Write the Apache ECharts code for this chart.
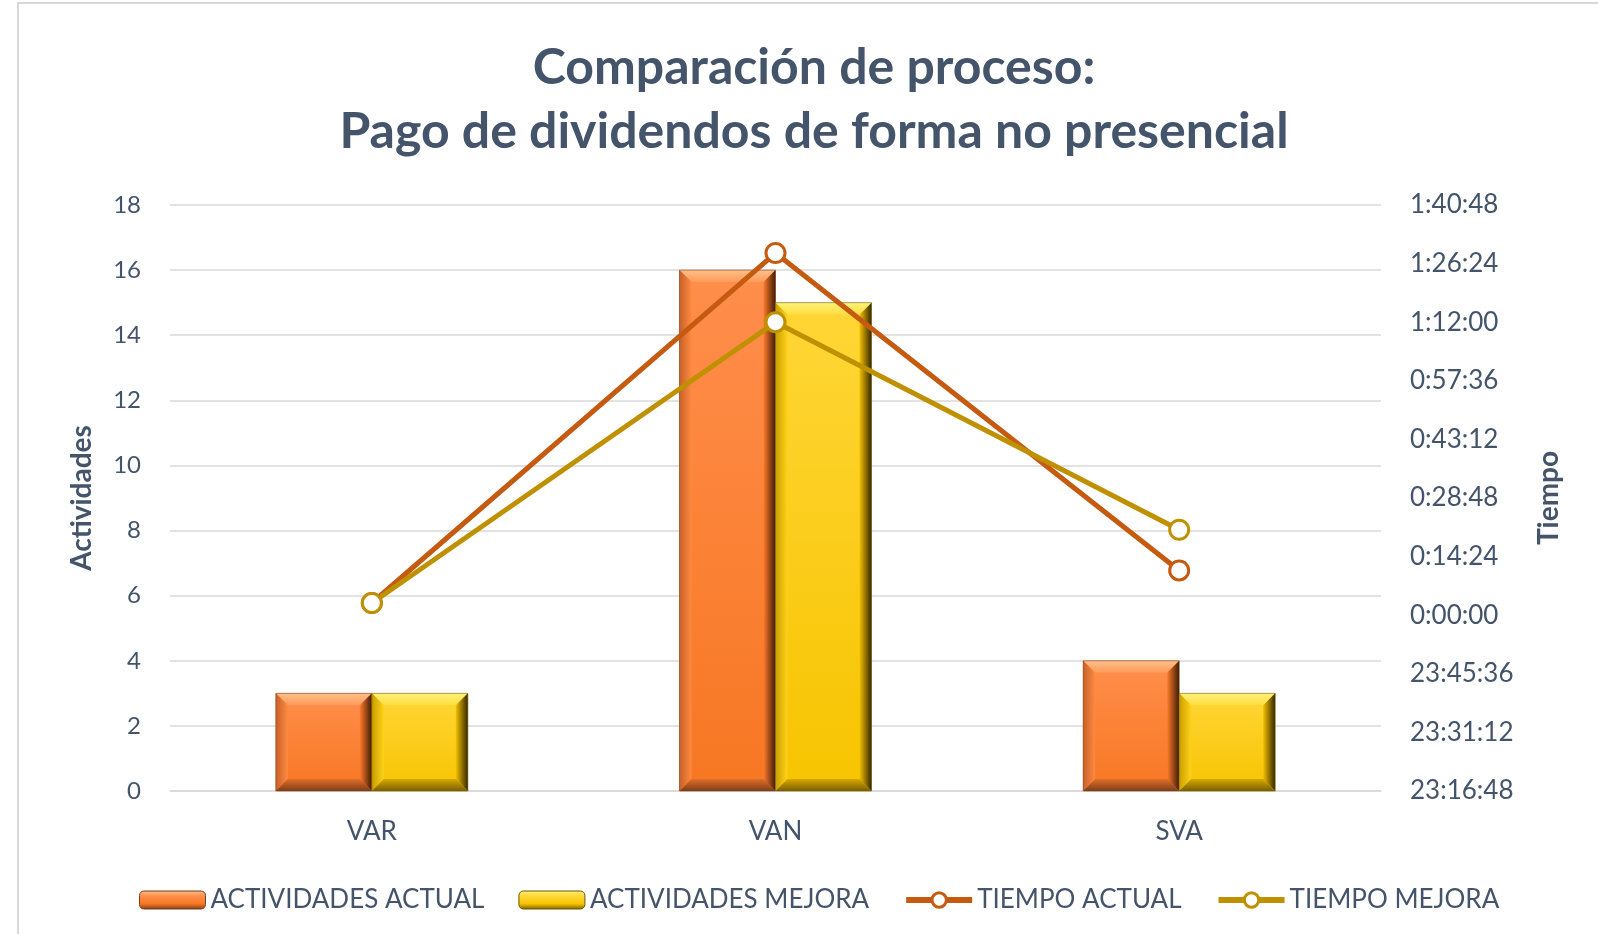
<!DOCTYPE html>
<html>
<head>
<meta charset="utf-8">
<script src="https://cdn.jsdelivr.net/npm/echarts@6/dist/echarts.min.js"></script>
<style>
  html, body { margin: 0; padding: 0; background: #fff; }
  #main { width: 1598px; height: 934px; }
</style>
</head>
<body>
<div id="main"></div>
<script>
// datos
var categorias = ['VAR', 'VAN', 'SVA'];
var actividadesActual = [3, 16, 4];
var actividadesMejora = [3, 15, 3];
// tiempos en minutos
var tiempoActualMin = [3, 89, 11];
var tiempoMejoraMin = [3, 72, 21];

function aDias(m) { return m / 1440; }

// formato h:mm:ss como en excel (valor en dias)
function formatoHora(v) {
    var s = Math.round(v * 86400);
    s = ((s % 86400) + 86400) % 86400;
    var h = Math.floor(s / 3600);
    var mi = Math.floor((s % 3600) / 60);
    var se = s % 60;
    return h + ':' + (mi < 10 ? '0' : '') + mi + ':' + (se < 10 ? '0' : '') + se;
}

var texto = '#44546A';
var fuente = 'Lato';
var anchoBarra = 96;
var bisel = 12;

var naranja = {
    caraArriba: '#FF8E4C', caraAbajo: '#F77722',
    arriba: ['#FFC08A', '#FF9A58'],
    izq: ['#C8602A', '#FF8A40'],
    der: ['#FF7A2A', '#3E1C06'],
    abajo: ['#E06E28', '#7E3E18'],
    borde: '#7A3C16'
};
var amarillo = {
    caraArriba: '#FFD636', caraAbajo: '#F7C400',
    arriba: ['#FFF27A', '#FFDC40'],
    izq: ['#C99E00', '#FFD21A'],
    der: ['#F4C000', '#332800'],
    abajo: ['#D8A800', '#7A6000'],
    borde: '#6A5400'
};

function grad(x2, y2, c) {
    return new echarts.graphic.LinearGradient(0, 0, x2, y2, [
        {offset: 0, color: c[0]}, {offset: 1, color: c[1]}
    ]);
}

// barra con bisel estilo excel
function barraBisel(pal, desplazamiento) {
    return function (params, api) {
        var cat = api.value(0);
        var base = api.coord([cat, 0]);
        var tope = api.coord([cat, api.value(1)]);
        var x0 = base[0] + desplazamiento;
        var x1 = x0 + anchoBarra;
        var y0 = tope[1];
        var y1 = base[1];
        var b = Math.min(bisel, (y1 - y0) / 2);
        return {
            type: 'group',
            children: [
                {type: 'rect', shape: {x: x0, y: y0, width: anchoBarra, height: y1 - y0},
                 style: {fill: grad(0, 1, [pal.caraArriba, pal.caraAbajo])}},
                {type: 'polygon', shape: {points: [[x0, y0], [x1, y0], [x1 - b, y0 + b], [x0 + b, y0 + b]]},
                 style: {fill: grad(0, 1, pal.arriba)}},
                {type: 'polygon', shape: {points: [[x0, y0], [x0 + b, y0 + b], [x0 + b, y1 - b], [x0, y1]]},
                 style: {fill: grad(1, 0, pal.izq)}},
                {type: 'polygon', shape: {points: [[x1, y0], [x1, y1], [x1 - b, y1 - b], [x1 - b, y0 + b]]},
                 style: {fill: new echarts.graphic.LinearGradient(x1 - b, 0, x1, 0, [
                     {offset: 0, color: pal.der[0]}, {offset: 1, color: pal.der[1]}], true)}},
                {type: 'polygon', shape: {points: [[x0, y1], [x0 + b, y1 - b], [x1 - b, y1 - b], [x1, y1]]},
                 style: {fill: grad(0, 1, pal.abajo)}},
                {type: 'rect', shape: {x: x0, y: y0, width: anchoBarra, height: y1 - y0},
                 style: {fill: 'none', stroke: pal.borde, lineWidth: 0.8, opacity: 0.7}}
            ]
        };
    };
}

function icono(pal) {
    return new echarts.graphic.LinearGradient(0, 0, 0, 1, [
        {offset: 0, color: pal.arriba[0]}, {offset: 0.3, color: pal.caraArriba},
        {offset: 0.7, color: pal.caraAbajo}, {offset: 1, color: pal.abajo[1]}
    ]);
}

var myChart = echarts.init(document.getElementById('main'));
var option = {
    backgroundColor: '#fff',
    title: {
        text: 'Comparación de proceso:\nPago de dividendos de forma no presencial',
        left: 814,
        textAlign: 'center',
        top: 36,
        padding: 0,
        textStyle: {
            fontFamily: fuente,
            fontSize: 50,
            fontWeight: 'bold',
            color: texto,
            lineHeight: 64
        }
    },
    graphic: [{
        type: 'rect',
        shape: {x: 18, y: 3, width: 1700, height: 1000},
        style: {fill: 'none', stroke: '#D9D9D9', lineWidth: 2},
        silent: true
    }],
    legend: {
        left: 134,
        top: 882,
        itemWidth: 66,
        itemHeight: 18,
        itemGap: 34,
        lineStyle: {width: 6},
        textStyle: {fontFamily: fuente, fontSize: 26, color: texto},
        data: [
            {name: 'ACTIVIDADES ACTUAL', itemStyle: {borderColor: naranja.borde, borderWidth: 1}},
            {name: 'ACTIVIDADES MEJORA', itemStyle: {borderColor: amarillo.borde, borderWidth: 1}},
            {name: 'TIEMPO ACTUAL', itemStyle: {borderWidth: 3}},
            {name: 'TIEMPO MEJORA', itemStyle: {borderWidth: 3}}
        ]
    },
    grid: {
        left: 170,
        right: 217,
        top: 205,
        bottom: 143
    },
    xAxis: {
        type: 'category',
        data: categorias,
        axisLine: {lineStyle: {color: '#D9D9D9', width: 1.5}},
        axisTick: {show: false},
        axisLabel: {fontFamily: fuente, fontSize: 26, color: texto, margin: 28}
    },
    yAxis: [
        {
            type: 'value',
            name: 'Actividades',
            nameLocation: 'middle',
            nameRotate: 90,
            nameGap: 74,
            nameTextStyle: {fontFamily: fuente, fontSize: 28, fontWeight: 'bold', color: texto},
            min: 0,
            max: 18,
            interval: 2,
            axisLine: {show: false},
            axisTick: {show: false},
            axisLabel: {fontFamily: fuente, fontSize: 24, color: texto, margin: 29},
            splitLine: {lineStyle: {color: '#D9D9D9', width: 1.5}}
        },
        {
            type: 'value',
            name: 'Tiempo',
            nameLocation: 'middle',
            nameRotate: 90,
            nameGap: 154,
            nameTextStyle: {fontFamily: fuente, fontSize: 28, fontWeight: 'bold', color: texto},
            min: -0.03,
            max: 0.07,
            interval: 0.01,
            axisLine: {show: false},
            axisTick: {show: false},
            axisLabel: {fontFamily: fuente, fontSize: 26, color: texto, margin: 29, formatter: formatoHora},
            splitLine: {show: false}
        }
    ],
    series: [
        {
            name: 'ACTIVIDADES ACTUAL',
            type: 'custom',
            renderItem: barraBisel(naranja, -anchoBarra),
            itemStyle: {color: icono(naranja)},
            encode: {x: 0, y: 1},
            data: actividadesActual.map(function (v, i) { return [i, v]; })
        },
        {
            name: 'ACTIVIDADES MEJORA',
            type: 'custom',
            renderItem: barraBisel(amarillo, 0),
            itemStyle: {color: icono(amarillo)},
            encode: {x: 0, y: 1},
            data: actividadesMejora.map(function (v, i) { return [i, v]; })
        },
        {
            name: 'TIEMPO ACTUAL',
            type: 'line',
            yAxisIndex: 1,
            data: tiempoActualMin.map(aDias),
            symbol: 'circle',
            symbolSize: 19,
            z: 5,
            lineStyle: {color: '#C55A11', width: 5},
            itemStyle: {color: '#fff', borderColor: '#C55A11', borderWidth: 3}
        },
        {
            name: 'TIEMPO MEJORA',
            type: 'line',
            yAxisIndex: 1,
            data: tiempoMejoraMin.map(aDias),
            symbol: 'circle',
            symbolSize: 19,
            z: 5,
            lineStyle: {color: '#BF9000', width: 5},
            itemStyle: {color: '#fff', borderColor: '#BF9000', borderWidth: 3}
        }
    ]
};
myChart.setOption(option);
</script>
</body>
</html>
